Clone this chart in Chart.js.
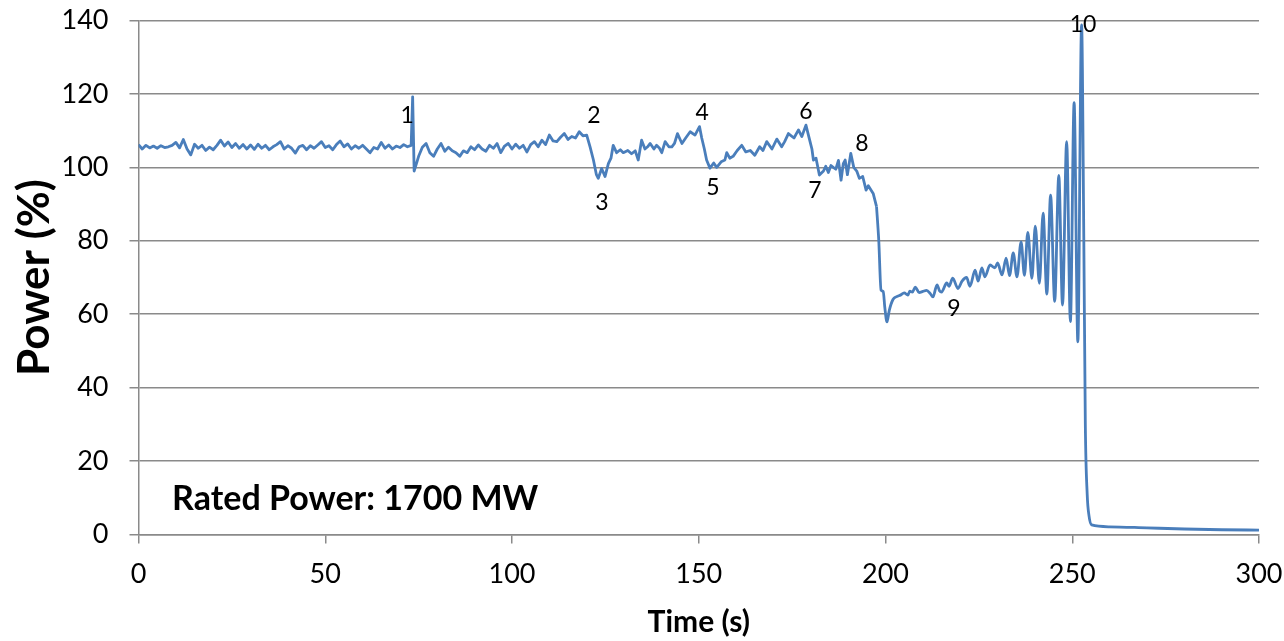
<!DOCTYPE html>
<html><head><meta charset="utf-8">
<script src="https://cdn.jsdelivr.net/npm/chart.js@4/dist/chart.umd.min.js"></script>
<style>html,body{margin:0;padding:0;background:#fff;}#wrap{width:1284px;height:641px;}</style>
</head><body><div id="wrap"><canvas id="c" width="1284" height="641"></canvas></div>
<script>
// ---- data ----
const steadyTime = [0,1,2,3,4,5,6,7,8,9,10,11,12,13,14,15,16,17,18,19,20,21,22,23,24,25,26,27,28,29,30,31,32,33,34,35,36,37,38,39,40,41,42,43,44,45,46,47,48,49,50,51,52,53,54,55,56,57,58,59,60,61,62,63,64,65,66,67,68,69,70,71,72,73];
const steadyPower = [106.2,105.0,106.0,105.3,105.8,105.2,105.9,105.4,105.6,106.0,106.8,105.3,107.6,105.0,103.4,106.3,105.2,106.0,104.6,105.5,104.8,106.0,107.4,105.8,106.9,105.4,106.5,105.2,106.2,105.0,106.1,104.9,106.3,105.2,106.0,104.8,105.6,106.2,107.0,105.0,105.9,105.2,103.9,105.6,106.0,104.8,105.9,105.2,106.1,107.0,105.4,105.9,104.8,106.2,107.2,105.6,106.4,105.0,105.9,105.2,106.0,105.0,104.0,105.4,105.0,106.8,105.2,106.1,105.0,105.8,105.4,106.2,105.6,106.0];
const stepsTime = [73.4,73.8,75,76,77,78,79,80,81,82,83,84,85,86,87,88,89,90,91,92,93,94,95,96,97,98,99,100,101,102,103,104,105,106,107,108,109,110,111,112,113,114,115,116,117,118,119,120,120.9,121.8,122.6,123.1,124,124.9,125.8,126.5,127.1,128,129,129.8,131,132,133,133.8,134.7,135.6,136.3,137,138,138.7,139.5,140.1,141,142,142.8,143.5,144.3,145.5,146.5,147.7,149,150.2,150.8,151.5,152.1,153,154,154.8,156,157,157.5,158.3,159.2,160.3,161.5,162.6,163.8,165,166.3,167.2,168.2,169.6,170.9,172.2,173,174,175.5,176.7,177.6,178.7,179.8,180.3,180.7,181.4,182.3,183.4,184,184.7,185.4,186,186.7,187.4,188.1,188.7,189.2,189.8,190.7,191.5,192.3,193,193.9,194.8,195.4,195.9,196.7,197.6];
const stepsPower = [119.2,99.0,103.0,105.5,106.5,104.0,103.0,105.0,106.5,104.4,105.5,104.5,104.0,103.0,104.5,104.0,105.6,104.8,106.1,105.0,104.4,106.0,105.2,106.5,104.0,105.8,106.5,105.0,106.3,105.2,106.0,104.2,106.2,107.0,105.6,107.4,106.2,108.8,107.2,107.0,108.2,109.2,107.6,108.4,108.0,109.7,108.6,108.8,105.6,102.0,98.0,97.0,99.7,97.5,101.0,102.5,106.0,104.0,104.8,104.0,104.6,103.7,104.5,102.0,107.4,105.0,105.6,106.5,105.0,106.0,105.2,104.0,107.0,105.6,105.6,106.5,109.2,106.5,108.0,109.7,108.8,111.1,108.0,105.0,102.0,99.8,101.2,100.0,101.5,102.0,104.0,102.5,103.0,104.6,106.0,104.2,104.6,103.3,105.6,104.6,107.0,105.0,107.7,105.6,107.0,109.2,108.0,110.2,108.4,111.5,107.0,105.0,102.0,102.5,97.9,99.0,100.3,98.6,100.5,100.0,99.5,101.9,96.5,101.0,102.0,98.0,103.8,100.0,99.0,97.0,97.5,93.8,95.0,94.2,92.9,89.3];
const dropTime = [197.6,198.2,198.8,199.4,199.8,200.4,201,202,203,204,205,206,206.5,207.2,208,209,210,211,212,212.7,213.8,214.5,215,216.4,217,218,219.4,220.5,221.7,222.6,224,224.8,225.8,226.6,228,229.3,230,231.2,232.3,233.2,234.2,235.2,236.3,237.2,238.1,239.2,240.1,241.2,242.2,243.2,244.2,245.3,246.4,247.4,248.5,249.5,250.5,251.5,252.5];
const dropPower = [89.3,80.0,66.6,66.2,62.0,57.9,61.0,64.0,64.8,65.2,65.8,65.2,66.3,66.0,67.4,65.9,66.2,66.5,65.6,64.7,68.0,66.3,66.0,68.5,67.6,69.8,67.0,69.0,70.0,67.6,72.0,69.0,72.6,70.2,73.4,72.6,74.0,70.7,75.3,70.5,76.7,70.2,79.7,70.6,82.3,69.8,84.0,68.4,87.5,65.5,92.4,63.5,97.8,62.5,107.0,58.0,117.6,52.5,138.8];
const tripTime = [253.1,253.5,254,254.5,255.2,260,270,280,290,300];
const tripPower = [80,30,11,5,2.6,2.1,1.8,1.5,1.3,1.2];

const xTicks = [0,50,100,150,200,250,300];
const yTicks = [0,20,40,60,80,100,120,140];

const annoLabels = ['1','2','3','4','5','6','7','8','9','10'];
const annoTime  = [71.9,121.9,124.1,150.9,153.8,178.7,181.1,193.7,218.3,252.9];
const annoPower = [114.0,114.2,90.3,114.8,94.6,115.1,93.8,106.6,61.4,139.0];

const noteText = 'Rated Power: 1700 MW';
const noteTime = 9.0, notePower = 9.7;

const xTitle = 'Time (s)';
const yTitle = 'Power (%)';

// ---- build ----
const toPts = (ts, vs) => ts.map((t, i) => ({x: t, y: vs[i]}));
const noisyPts = toPts(steadyTime.concat(stepsTime), steadyPower.concat(stepsPower));
const oscPts = toPts(dropTime.concat(tripTime), dropPower.concat(tripPower));

const FONT = 'Lato, "Open Sans", sans-serif';
const GRID = '#8a8a8a';
const LINE = '#4A7EBB';

const labelPlugin = {
  id: 'labels',
  afterDatasetsDraw(chart) {
    const {ctx, scales: {x, y}} = chart;
    ctx.save();
    ctx.fillStyle = '#000';
    ctx.textAlign = 'center';
    ctx.textBaseline = 'middle';
    ctx.font = '23px ' + FONT;
    annoLabels.forEach((s, i) => {
      ctx.fillText(s, x.getPixelForValue(annoTime[i]), y.getPixelForValue(annoPower[i]));
    });
    ctx.textAlign = 'left';
    ctx.font = 'bold 34px ' + FONT;
    ctx.fillText(noteText, x.getPixelForValue(noteTime), y.getPixelForValue(notePower));
    ctx.restore();
  }
};

new Chart(document.getElementById('c'), {
  type: 'line',
  data: { datasets: [
    { data: noisyPts, borderColor: LINE, borderWidth: 2.8, pointRadius: 0, tension: 0, fill: false, borderJoinStyle: 'round' },
    { data: oscPts, borderColor: LINE, borderWidth: 2.8, pointRadius: 0, cubicInterpolationMode: 'monotone', fill: false }
  ]},
  options: {
    responsive: false,
    animation: false,
    devicePixelRatio: 1,
    layout: { padding: { left: 0, right: 25, top: 20.5, bottom: 0 } },
    plugins: { legend: { display: false }, tooltip: { enabled: false } },
    scales: {
      x: {
        type: 'linear', min: 0, max: 300,
        afterBuildTicks: s => { s.ticks = xTicks.map(v => ({value: v})); },
        afterFit: s => { s.height = 106.5; s.paddingLeft = 0; s.paddingRight = 0; },
        ticks: { color: '#000', font: { family: FONT, size: 27 }, padding: 15, maxRotation: 0 },
        grid: { drawOnChartArea: false, drawTicks: true, tickLength: 9, color: GRID, lineWidth: 1.5 },
        border: { color: GRID, width: 1.5 },
        title: { display: true, text: xTitle, color: '#000', font: { family: FONT, size: 30, weight: 'bold' }, padding: { top: 0, bottom: 1 } }
      },
      y: {
        min: 0, max: 140,
        afterBuildTicks: s => { s.ticks = yTicks.map(v => ({value: v})); },
        afterFit: s => { s.width = 138.5; s.paddingTop = 0; s.paddingBottom = 0; },
        ticks: { color: '#000', font: { family: FONT, size: 27 }, padding: 21 },
        grid: { color: GRID, lineWidth: 1.5, tickLength: 9, drawTicks: true },
        border: { color: GRID, width: 1.5 },
        title: { display: true, text: yTitle, color: '#000', font: { family: FONT, size: 44, weight: 'bold' }, padding: { top: 8, bottom: 0 } }
      }
    }
  },
  plugins: [labelPlugin]
});
</script></body></html>
